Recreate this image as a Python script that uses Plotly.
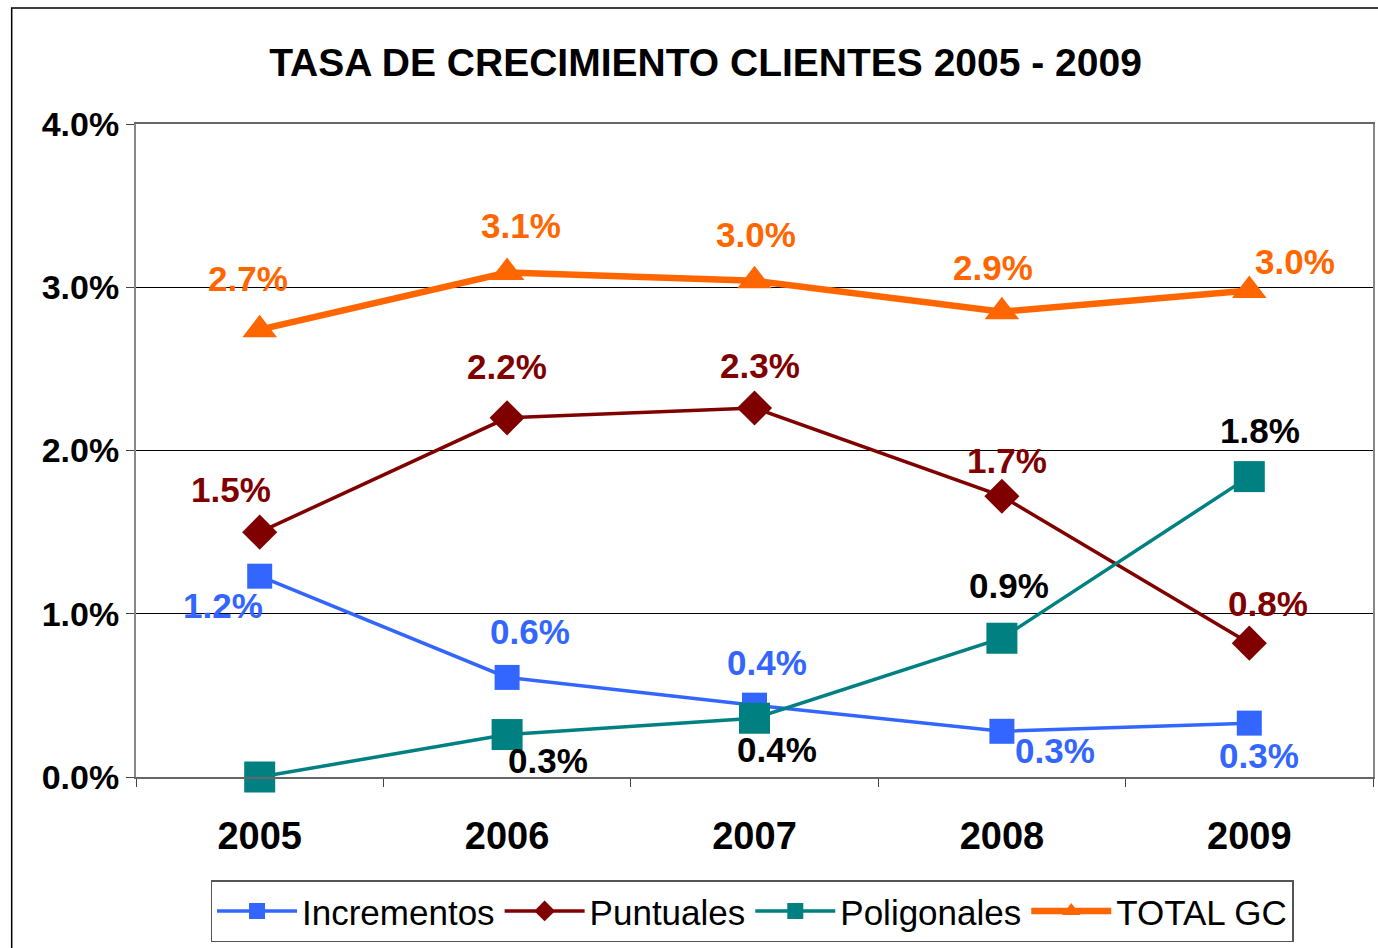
import plotly.graph_objects as go

years = ["2005", "2006", "2007", "2008", "2009"]
incrementos = [1.23, 0.61, 0.44, 0.28, 0.33]
puntuales = [1.50, 2.20, 2.26, 1.72, 0.82]
poligonales = [0.00, 0.26, 0.36, 0.85, 1.84]
total_gc = [2.74, 3.09, 3.04, 2.85, 2.98]

lbl_incr = ["1.2%", "0.6%", "0.4%", "0.3%", "0.3%"]
lbl_punt = ["1.5%", "2.2%", "2.3%", "1.7%", "0.8%"]
lbl_poli = [None, "0.3%", "0.4%", "0.9%", "1.8%"]
lbl_total = ["2.7%", "3.1%", "3.0%", "2.9%", "3.0%"]

y_ticks = [0, 1, 2, 3, 4]

# label offsets in pixels (dx, dy downward positive)
off_incr = [(-37, 29), (23, -46), (12, -43), (53, 19), (10, 32)]
off_punt = [(-29, -43), (0, -51), (5, -43), (5, -36), (19, -40)]
off_poli = [(0, 0), (41, 26), (22, 31), (7, -53), (11, -46)]
off_total = [(-12, -51), (14, -47), (1, -46), (-9, -44), (46, -29)]

C_INCR = "#3366FF"
C_PUNT = "#800000"
C_POLI = "#008080"
C_TOT = "#FF6600"
FONT = "Arial, Liberation Sans, sans-serif"

fig = go.Figure()
fig.add_trace(go.Scatter(x=years, y=incrementos, name="Incrementos", mode="lines+markers",
                         line=dict(color=C_INCR, width=3.5), cliponaxis=False,
                         marker=dict(symbol="square", size=25, color=C_INCR)))
fig.add_trace(go.Scatter(x=years, y=puntuales, name="Puntuales", mode="lines+markers",
                         line=dict(color=C_PUNT, width=3.5), cliponaxis=False,
                         marker=dict(symbol="diamond", size=27, color=C_PUNT)))
fig.add_trace(go.Scatter(x=years, y=poligonales, name="Poligonales", mode="lines+markers",
                         line=dict(color=C_POLI, width=3.5), cliponaxis=False,
                         marker=dict(symbol="square", size=31, color=C_POLI)))
fig.add_trace(go.Scatter(x=years, y=total_gc, name="TOTAL GC", mode="lines+markers",
                         line=dict(color=C_TOT, width=6.5), cliponaxis=False,
                         marker=dict(symbol="triangle-up", size=30, color=C_TOT)))

def add_labels(vals, labels, offs, color):
    for i, (v, t, (dx, dy)) in enumerate(zip(vals, labels, offs)):
        if t is None:
            continue
        fig.add_annotation(x=i, y=v, xref="x", yref="y", text=f"<b>{t}</b>", showarrow=False,
                           xshift=dx, yshift=-dy,
                           font=dict(family=FONT, size=35, color=color))

add_labels(incrementos, lbl_incr, off_incr, C_INCR)
add_labels(puntuales, lbl_punt, off_punt, C_PUNT)
add_labels(poligonales, lbl_poli, off_poli, "#000000")
add_labels(total_gc, lbl_total, off_total, C_TOT)

# outer chart border
fig.add_shape(type="rect", xref="paper", yref="paper",
              x0=-0.1005, x1=1.02, y0=-0.4, y1=1.1776,
              line=dict(color="#000000", width=1.5), layer="below")

fig.update_layout(
    width=1378, height=948,
    margin=dict(l=136, r=3, t=124, b=171),
    paper_bgcolor="white", plot_bgcolor="white",
    title=dict(text="<b>TASA DE CRECIMIENTO CLIENTES 2005 - 2009</b>",
               x=0.512, xanchor="center", y=0.9346, yanchor="middle",
               font=dict(family=FONT, size=39, color="#000000")),
    font=dict(family=FONT, color="#000000"),
    showlegend=True,
    legend=dict(orientation="h", x=0.498, xanchor="center", y=-0.158, yanchor="top",
                bordercolor="#555555", borderwidth=1.5, bgcolor="white",
                font=dict(family=FONT, size=35, color="#000000"),
                itemwidth=80, tracegroupgap=0),
)
fig.update_xaxes(type="category", range=[-0.5, 4.5], tickson="boundaries",
                 ticks="outside", ticklen=8, tickcolor="#444444",
                 showline=True, linecolor="#666666", linewidth=2, mirror=True,
                 showgrid=False, ticklabelstandoff=24,
                 tickfont=dict(family=FONT, size=38, color="#000000"),
                 tickprefix="<b>", ticksuffix="</b>")
fig.update_yaxes(range=[0, 4], tickvals=y_ticks,
                 ticktext=[f"<b>{v:.1f}%</b>" for v in y_ticks],
                 ticks="outside", ticklen=8, tickcolor="#444444",
                 showline=True, linecolor="#888888", linewidth=2, mirror=True,
                 showgrid=True, gridcolor="#000000", gridwidth=1, zeroline=False,
                 tickfont=dict(family=FONT, size=34, color="#000000"))

fig.write_html("out.html", config={"displayModeBar": False},
               post_script="document.body.style.margin='0';")
